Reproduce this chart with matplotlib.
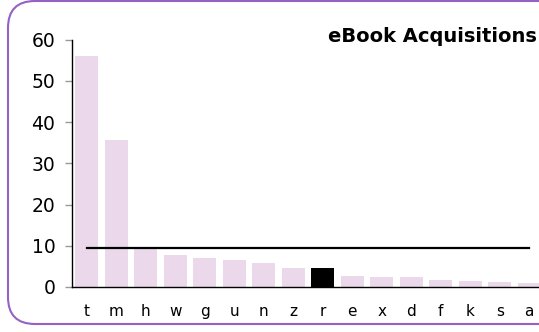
import matplotlib
matplotlib.use("Agg")
import matplotlib.pyplot as plt
from matplotlib.patches import FancyBboxPatch
import numpy as np

categories = ["t", "m", "h", "w", "g", "u", "n", "z", "r", "e", "x", "d", "f", "k", "s", "a"]
acquisitions = [56.0, 35.7, 9.3, 7.7, 7.0, 6.5, 5.8, 4.6, 4.6, 2.6, 2.4, 2.4, 1.7, 1.4, 1.3, 1.0]
highlight = "r"
y_ticks = [0, 10, 20, 30, 40, 50, 60]
title = "eBook Acquisitions"

W, H = 539, 332
fig = plt.figure(figsize=(W / 100, H / 100), dpi=100)
fig.patch.set_facecolor("white")

# rounded frame around the chart (its right edge runs past the canvas)
frame = FancyBboxPatch((8 / W, 8 / H), 600 / W, (331 - 8) / H,
                       boxstyle="round,pad=0,rounding_size=0.05",
                       transform=fig.transFigure, facecolor="none",
                       edgecolor="#9462c4", linewidth=1.5, mutation_aspect=W / H)
fig.patches.append(frame)

ax = fig.add_axes([72 / W, 1 - 287 / H, 472 / W, (287 - 39.5) / H])
x = np.arange(len(categories))
colors = ["black" if c == highlight else "#ebd9eb" for c in categories]
ax.bar(x, acquisitions, width=0.79, color=colors, linewidth=0, zorder=2)

mean_val = float(np.mean(acquisitions))
ax.plot([x[0], x[-1]], [mean_val, mean_val], color="black", linewidth=1.6, zorder=3)

ax.set_xlim(-0.5, len(categories) - 0.5)
ax.set_ylim(0, 60)
ax.set_xticks(x)
ax.set_xticklabels(categories, fontsize=11, fontfamily="DejaVu Sans")
ax.set_yticks(y_ticks)
ax.set_yticklabels([str(v) for v in y_ticks], fontsize=13.5, fontfamily="DejaVu Sans")
ax.tick_params(axis="x", length=0, pad=12)
ax.tick_params(axis="y", length=5, color="#999999", width=1, pad=7)
for side in ("top", "right"):
    ax.spines[side].set_visible(False)
for side in ("left", "bottom"):
    ax.spines[side].set_color("black")
    ax.spines[side].set_linewidth(1.0)
ax.set_facecolor("none")

fig.text(537 / W, 1 - 42 / H, title, ha="right", va="baseline",
         fontsize=14, fontweight="bold", fontfamily="DejaVu Sans")

fig.savefig("out.png", dpi=100, facecolor="white")
